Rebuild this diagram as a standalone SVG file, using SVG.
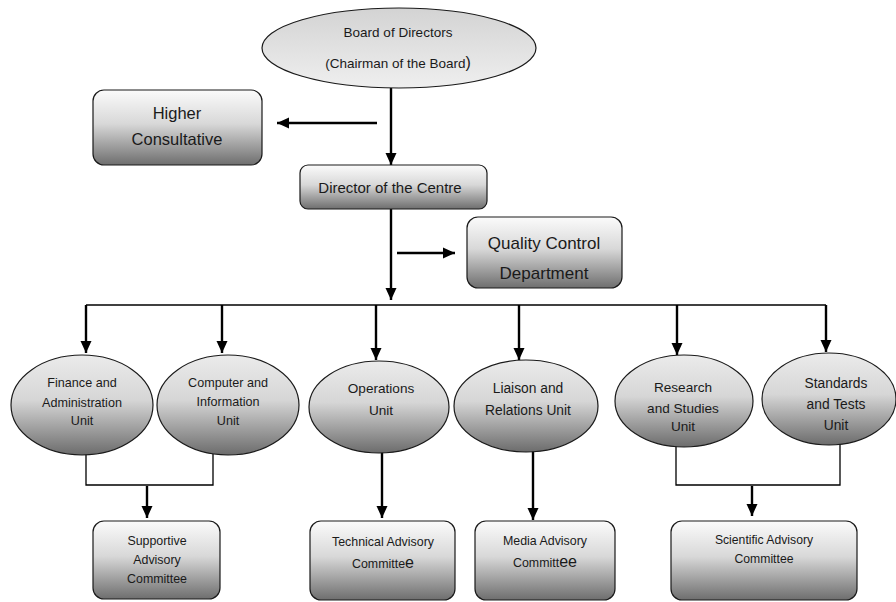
<svg xmlns="http://www.w3.org/2000/svg" width="896" height="602" viewBox="0 0 896 602">
<style>
text{font-family:"Liberation Sans","Open Sans",Arial,sans-serif;fill:#1a1a1a;text-anchor:middle}
.box{fill:url(#boxGrad);stroke:#1a1a1a;stroke-width:1.2}
.ell{fill:url(#ellGrad);stroke:#1a1a1a;stroke-width:1.2}
.arr{stroke:#000;stroke-width:2.4;fill:none;marker-end:url(#ah)}
.thin{stroke:#000;stroke-width:1.3;fill:none}
</style>
<defs>
<linearGradient id="boxGrad" x1="0" y1="0" x2="0" y2="1">
<stop offset="0" stop-color="#fbfbfb"/>
<stop offset="0.45" stop-color="#d8d8d8"/>
<stop offset="1" stop-color="#6e6e6e"/>
</linearGradient>
<linearGradient id="ellGrad" x1="0" y1="0" x2="0" y2="1">
<stop offset="0" stop-color="#ebebeb"/>
<stop offset="0.45" stop-color="#d6d6d6"/>
<stop offset="1" stop-color="#6c6c6c"/>
</linearGradient>
<linearGradient id="boardGrad" x1="0" y1="0" x2="0" y2="1">
<stop offset="0" stop-color="#d3d3d3"/>
<stop offset="1" stop-color="#efefef"/>
</linearGradient>
<marker id="ah" markerUnits="userSpaceOnUse" markerWidth="12" markerHeight="12" refX="12" refY="6" orient="auto">
<path d="M0,0.5 L12,6 L0,11.5 z" fill="#000"/>
</marker>
</defs>

<g id="connectors">
<line class="arr" x1="391" y1="88" x2="391" y2="165"/>
<line class="arr" x1="377" y1="123" x2="277" y2="123"/>
<line class="arr" x1="391" y1="209" x2="391" y2="300"/>
<line class="arr" x1="397" y1="253" x2="455" y2="253"/>
<line class="thin" x1="86" y1="305" x2="826" y2="305"/>
<line class="arr" x1="86" y1="305" x2="86" y2="353"/>
<line class="arr" x1="222" y1="305" x2="222" y2="353"/>
<line class="arr" x1="376" y1="305" x2="376" y2="360"/>
<line class="arr" x1="519" y1="305" x2="519" y2="360"/>
<line class="arr" x1="677" y1="305" x2="677" y2="355"/>
<line class="arr" x1="826" y1="305" x2="826" y2="352"/>
<polyline class="thin" points="86,454 86,485 213,485 213,452"/>
<line class="arr" x1="147" y1="486" x2="147" y2="518"/>
<line class="arr" x1="382" y1="452" x2="382" y2="518"/>
<line class="arr" x1="533" y1="451" x2="533" y2="520"/>
<polyline class="thin" points="676,446 676,485 840,485 840,444"/>
<line class="arr" x1="752" y1="486" x2="752" y2="516"/>
</g>

<g id="board">
<ellipse cx="399" cy="48" rx="137" ry="40" fill="url(#boardGrad)" stroke="#1a1a1a" stroke-width="1.2"/>
<text x="398" y="37" font-size="13.5">Board of Directors</text>
<text x="398" y="68" font-size="13.5">(Chairman of the Board<tspan font-size="16">)</tspan></text>
</g>

<g id="higher">
<rect class="box" x="93" y="90" width="169" height="75" rx="11"/>
<text x="177" y="119" font-size="16.5">Higher</text>
<text x="177" y="145" font-size="16.5">Consultative</text>
</g>

<g id="director">
<rect class="box" x="300" y="165" width="187" height="44" rx="8"/>
<text x="390" y="193" font-size="15">Director of the Centre</text>
</g>

<g id="quality">
<rect class="box" x="467" y="217" width="155" height="71" rx="11"/>
<text x="544" y="249" font-size="17">Quality Control</text>
<text x="544" y="279" font-size="17">Department</text>
</g>

<g id="finance">
<ellipse class="ell" cx="82" cy="405" rx="71" ry="50"/>
<text x="82" y="387" font-size="12.6">Finance and</text>
<text x="82" y="407" font-size="12.6">Administration</text>
<text x="82" y="425" font-size="12.6">Unit</text>
</g>

<g id="computer">
<ellipse class="ell" cx="228" cy="405" rx="71" ry="50"/>
<text x="228" y="387" font-size="12.6">Computer and</text>
<text x="228" y="406" font-size="12.6">Information</text>
<text x="228" y="425" font-size="12.6">Unit</text>
</g>

<g id="operations">
<ellipse class="ell" cx="379" cy="407" rx="70" ry="46"/>
<text x="381" y="393" font-size="13.6">Operations</text>
<text x="381" y="415" font-size="13.6">Unit</text>
</g>

<g id="liaison">
<ellipse class="ell" cx="526" cy="406" rx="72" ry="46"/>
<text x="528" y="393" font-size="13.8">Liaison and</text>
<text x="528" y="415" font-size="13.8">Relations Unit</text>
</g>

<g id="research">
<ellipse class="ell" cx="684" cy="401" rx="69" ry="46"/>
<text x="683" y="392" font-size="13.6">Research</text>
<text x="683" y="413" font-size="13.6">and Studies</text>
<text x="683" y="431" font-size="13.6">Unit</text>
</g>

<g id="standards">
<ellipse class="ell" cx="829" cy="399" rx="67" ry="46"/>
<text x="836" y="388" font-size="13.8">Standards</text>
<text x="836" y="409" font-size="13.8">and Tests</text>
<text x="836" y="430" font-size="13.8">Unit</text>
</g>

<g id="supportive">
<rect class="box" x="93" y="521" width="127" height="78" rx="11"/>
<text x="157" y="545" font-size="12.4">Supportive</text>
<text x="157" y="564" font-size="12.4">Advisory</text>
<text x="157" y="583" font-size="12.4">Committee</text>
</g>

<g id="technical">
<rect class="box" x="310" y="521" width="145" height="79" rx="11"/>
<text x="383" y="546" font-size="12.4">Technical Advisory</text>
<text x="383" y="568" font-size="12.4">Committe<tspan font-size="16">e</tspan></text>
</g>

<g id="media">
<rect class="box" x="475" y="521" width="140" height="79" rx="11"/>
<text x="545" y="545" font-size="12.4">Media Advisory</text>
<text x="545" y="567" font-size="12.4">Committ<tspan font-size="16">ee</tspan></text>
</g>

<g id="scientific">
<rect class="box" x="671" y="521" width="186" height="79" rx="11"/>
<text x="764" y="544" font-size="12.2">Scientific Advisory</text>
<text x="764" y="563" font-size="12.2">Committee</text>
</g>
</svg>
